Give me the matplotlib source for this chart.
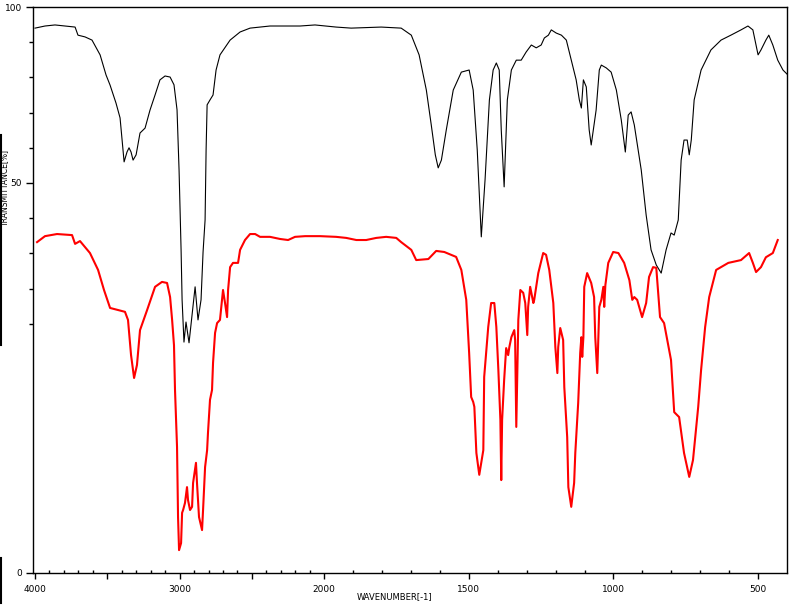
import numpy as np
import matplotlib
matplotlib.use("Agg")
import matplotlib.pyplot as plt
from matplotlib.lines import Line2D

# ---- data (wavenumber in cm-1, transmittance in axis %) ----
black_wn = [4000, 3931, 3862, 3793, 3723, 3703, 3654, 3606, 3550, 3509, 3481, 3440, 3412,
            3384, 3364, 3350, 3336, 3322, 3301, 3274, 3239, 3205, 3170, 3136, 3101, 3066,
            3039, 3018, 3004, 2990, 2983, 2970, 2956, 2935, 2914, 2893, 2873, 2852, 2838,
            2824, 2817, 2810, 2790, 2769, 2748, 2721, 2651, 2582, 2513, 2375, 2167, 2064,
            1959, 1907, 1803, 1734, 1699, 1672, 1647, 1630, 1616, 1606, 1595, 1578, 1554,
            1526, 1499, 1485, 1471, 1457, 1444, 1429, 1416, 1405, 1395, 1388, 1378, 1367,
            1353, 1336, 1319, 1302, 1284, 1267, 1250, 1239, 1225, 1215, 1198, 1180, 1163,
            1146, 1129, 1118, 1111, 1104, 1094, 1084, 1077, 1060, 1049, 1042, 1025, 1008,
            990, 973, 959, 949, 939, 928, 904, 887, 870, 852, 835, 818, 801, 790, 776, 766,
            756, 745, 738, 731, 721, 697, 663, 628, 594, 559, 535, 518, 507, 500, 490, 473,
            463, 449, 432, 414, 397]
black_t = [94.0, 94.6, 94.9, 94.6, 94.3, 92.0, 91.5, 90.6, 86.4, 80.7, 77.8, 72.7, 68.5,
           56.0, 58.8, 60.0, 58.8, 56.5, 58.0, 64.2, 65.6, 70.7, 75.0, 79.3, 80.4, 80.1,
           77.9, 70.8, 53.7, 31.0, 16.8, 4.8, 10.5, 4.6, 12.5, 20.5, 11.1, 16.8, 30.4,
           39.5, 59.4, 72.2, 73.6, 75.0, 82.1, 86.4, 90.6, 92.9, 94.0, 94.6, 94.6, 94.9,
           94.3, 94.0, 94.3, 94.0, 92.0, 86.4, 76.4, 66.5, 58.0, 54.3, 56.5, 65.1, 76.4,
           81.5, 82.1, 76.4, 59.4, 34.7, 50.9, 73.6, 82.1, 84.1, 82.1, 65.1, 48.9, 73.6,
           82.1, 84.9, 84.9, 87.2, 89.2, 88.4, 89.2, 91.2, 92.0, 93.5, 92.6, 92.0, 90.6,
           84.9, 79.3, 73.6, 71.3, 79.3, 77.3, 65.1, 60.8, 70.7, 82.1, 83.5, 82.7, 81.5,
           76.4, 67.9, 58.8, 69.3, 70.2, 66.5, 53.7, 40.9, 31.0, 26.7, 24.4, 31.0, 35.8,
           35.2, 39.5, 56.5, 62.2, 62.2, 58.0, 62.2, 73.6, 82.1, 87.8, 90.6, 92.0, 93.5,
           94.6, 93.5, 89.2, 86.4, 87.8, 90.6, 92.0, 89.2, 84.9, 82.1, 80.7]

red_wn = [3986, 3931, 3848, 3744, 3723, 3689, 3620, 3564, 3523, 3481, 3426, 3378, 3357,
          3336, 3315, 3295, 3274, 3225, 3170, 3122, 3087, 3066, 3052, 3039, 3032, 3018,
          3011, 3004, 2990, 2983, 2976, 2963, 2949, 2942, 2928, 2914, 2907, 2887, 2880,
          2866, 2845, 2838, 2824, 2810, 2804, 2790, 2776, 2769, 2755, 2741, 2721, 2700,
          2686, 2672, 2665, 2651, 2631, 2596, 2582, 2548, 2513, 2478, 2444, 2375, 2306,
          2250, 2202, 2132, 2029, 1959, 1924, 1889, 1855, 1820, 1786, 1751, 1734, 1699,
          1682, 1640, 1613, 1585, 1544, 1526, 1509, 1499, 1492, 1485, 1481, 1474, 1464,
          1450, 1447, 1433, 1423, 1412, 1405, 1398, 1391, 1388, 1385, 1378, 1371, 1364,
          1360, 1353, 1343, 1340, 1336, 1329, 1322, 1312, 1305, 1298, 1295, 1288, 1277,
          1274, 1260, 1243, 1233, 1222, 1208, 1201, 1194, 1191, 1184, 1174, 1170, 1160,
          1156, 1146, 1136, 1132, 1122, 1115, 1111, 1108, 1104, 1101, 1091, 1077, 1067,
          1063, 1056, 1049, 1042, 1035, 1032, 1028, 1018, 1001, 983, 963, 945, 935, 928,
          918, 901, 887, 877, 863, 852, 839, 825, 801, 790, 773, 756, 738, 725, 707, 697,
          683, 669, 645, 603, 559, 531, 518, 507, 490, 473, 449, 432]
red_t = [33.2, 34.9, 35.5, 35.2, 32.7, 33.5, 30.1, 25.3, 19.6, 14.5, 13.9, 13.4, 11.1,
         1.1, -5.4, -1.7, 8.2, 13.9, 20.5, 21.9, 21.6, 17.6, 11.1, 3.9, -8.8, -25.0,
         -44.9, -54.3, -52.3, -43.7, -42.9, -40.9, -36.4, -40.1, -42.9, -42.0, -35.2,
         -29.5, -35.2, -44.9, -48.6, -42.9, -30.7, -25.9, -21.0, -11.6, -8.8, -1.1, 7.4,
         10.2, 11.1, 19.6, 15.9, 11.9, 19.6, 26.1, 27.3, 27.3, 31.0, 33.8, 35.5, 35.5,
         34.7, 34.7, 34.1, 33.8, 34.7, 34.9, 34.9, 34.7, 34.4, 33.8, 33.8, 34.4, 34.7,
         34.4, 33.2, 31.0, 28.1, 28.4, 30.7, 30.4, 29.0, 25.3, 16.8, 1.7, -10.8, -12.2,
         -13.6, -26.7, -32.9, -25.9, -5.1, 9.1, 15.9, 15.9, 9.1, -3.1, -17.3, -34.4,
         -17.3, -6.0, 3.1, 1.1, 3.4, 6.2, 8.2, 5.4, -19.3, 11.1, 19.6, 18.8, 15.9, 6.8,
         14.8, 20.5, 15.9, 16.8, 24.4, 30.1, 29.6, 25.3, 15.9, 3.4, -4.0, 3.4, 8.8, 5.4,
         -8.0, -22.2, -36.4, -42.0, -35.2, -26.7, -12.5, 1.7, 6.2, 0.6, 6.2, 20.5, 24.4,
         21.6, 17.6, 6.2, -4.0, 14.8, 16.8, 20.5, 14.8, 21.0, 27.3, 30.4, 30.1, 27.3,
         22.4, 16.8, 17.6, 16.8, 11.9, 15.9, 23.3, 26.1, 25.9, 11.9, 10.2, -0.3, -15.1,
         -16.5, -26.7, -33.5, -28.7, -13.6, -3.1, 9.1, 17.6, 25.3, 27.3, 28.1, 30.1,
         27.3, 24.7, 26.1, 28.9, 30.1, 33.8]

major_x = [4000, 3500, 3000, 2500, 2000, 1500, 1000, 500]
major_x_labels = ["4000", "", "3000", "", "2000", "1500", "1000", "500"]
minor_x = list(range(3900, 2000, -100)) + list(range(1900, 400, -100))
y_major = [-60.8, 50, 100]
y_major_labels = ["0", "50", "100"]
y_minor = [10, 20, 30, 40, 60, 70, 80, 90]


# increasing transform: wavenumbers above 2000 are drawn at half scale
def fwd(w):
    w = np.asarray(w, dtype=float)
    return np.where(w >= 2000, (w - 2000) / 2.0, w - 2000)


def inv(u):
    u = np.asarray(u, dtype=float)
    return np.where(u >= 0, 2000 + 2 * u, 2000 + u)


fig = plt.figure(figsize=(7.98, 6.13), dpi=100)
ax = fig.add_axes([33 / 798, 40 / 613, 754 / 798, 566 / 613])
ax.set_xscale("function", functions=(fwd, inv))
ax.plot(black_wn, black_t, color="black", lw=0.8)
ax.plot(red_wn, red_t, color="#ff0000", lw=1.5)
ax.set_xlim(4014, 400)
ax.set_ylim(-60.8, 100)

ax.set_xticks(major_x)
ax.set_xticklabels(major_x_labels, fontsize=6.5)
ax.set_xticks(minor_x, minor=True)
ax.set_xticklabels([], minor=True)
ax.set_yticks(y_major)
ax.set_yticklabels(y_major_labels, fontsize=6.5)
ax.set_yticks(y_minor, minor=True)
ax.set_yticklabels([], minor=True)
ax.tick_params(axis="x", which="major", direction="out", length=4, width=1, pad=5)
ax.tick_params(axis="x", which="minor", direction="in", length=2, width=1)
ax.tick_params(axis="y", which="major", direction="out", length=5, width=1, pad=3)
ax.tick_params(axis="y", which="minor", direction="out", length=3, width=1)
for s in ax.spines.values():
    s.set_linewidth(1.0)
    s.set_color("black")

fig.text(395 / 798, 1 - 597 / 613, "WAVENUMBER[-1]", ha="center", va="center", fontsize=6)
fig.text(5 / 798, 1 - 188 / 613, "TRANSMITTANCE[%]", ha="center", va="center",
         rotation=90, fontsize=5.5)
fig.add_artist(Line2D([1 / 798, 1 / 798], [1 - 135 / 613, 1 - 345 / 613],
                      transform=fig.transFigure, color="black", lw=1.5))
fig.add_artist(Line2D([1 / 798, 1 / 798], [1 - 558 / 613, 1 - 603 / 613],
                      transform=fig.transFigure, color="black", lw=1.5))

fig.savefig("out.png", dpi=100)
